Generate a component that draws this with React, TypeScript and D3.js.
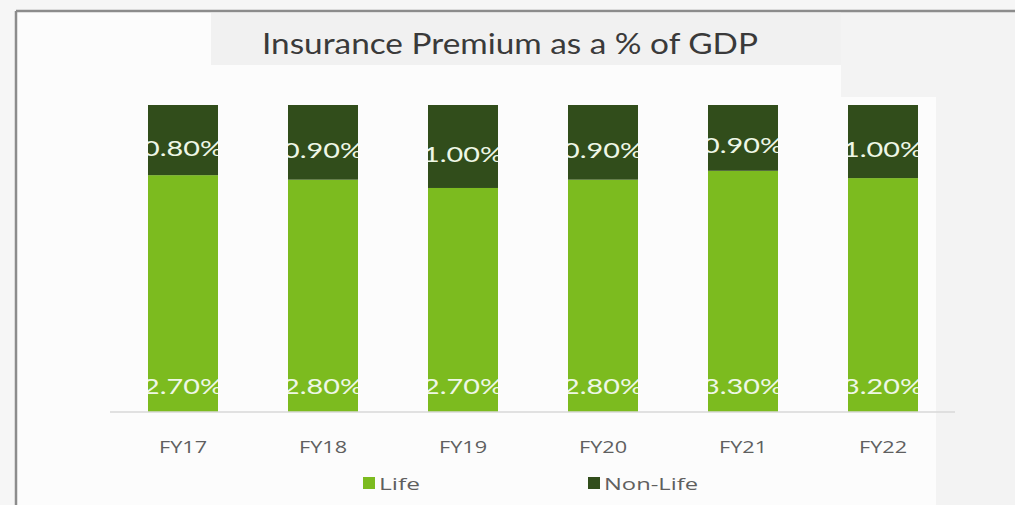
import React from "react";
import * as d3 from "d3";

const categories = ["FY17", "FY18", "FY19", "FY20", "FY21", "FY22"];
const lifeValues = [2.7, 2.8, 2.7, 2.8, 3.3, 3.2];
const nonLifeValues = [0.8, 0.9, 1.0, 0.9, 0.9, 1.0];
const seriesNames = ["Life", "Non-Life"];
const seriesColors = ["#7cbb1f", "#314d1b"];
const title = "Insurance Premium as a % of GDP";

const W = 1015;
const H = 505;

export default function App() {
  const rows = categories.map((c, i) => ({
    cat: c,
    Life: lifeValues[i],
    "Non-Life": nonLifeValues[i],
  }));
  const stack = d3
    .stack<any>()
    .keys(seriesNames)
    .offset(d3.stackOffsetExpand);
  const stacked = stack(rows);

  const x = d3
    .scaleBand<string>()
    .domain(categories)
    .range([113, 953])
    .paddingInner(0.5)
    .paddingOuter(0.25);
  const y = d3.scaleLinear().domain([0, 1]).range([412, 105]);
  const fmt = (v: number) => v.toFixed(2) + "%";
  const font = "Lato, 'Open Sans', sans-serif";
  const font2 = "'Open Sans', 'DejaVu Sans', sans-serif";

  return (
    <svg
      width={W}
      height={H}
      style={{ position: "absolute", left: 0, top: 0, display: "block" }}
    >
      <rect x={0} y={0} width={W} height={H} fill="#f6f6f6" />
      <rect x={16} y={11} width={W - 16} height={H - 11} fill="#fcfcfc" />
      <rect x={841} y={12} width={W - 841} height={85} fill="#f3f3f3" />
      <rect x={936} y={12} width={W - 936} height={H - 12} fill="#f3f3f3" />
      <rect x={211} y={13} width={630} height={52} fill="#f1f1f1" />
      <line x1={16} y1={11} x2={W} y2={11} stroke="#8c8c8c" strokeWidth={2.5} />
      <line x1={16} y1={11} x2={16} y2={H} stroke="#8c8c8c" strokeWidth={2.5} />

      <text
        x={510}
        y={43}
        textAnchor="middle"
        dominantBaseline="central"
        fontFamily={font}
        fontSize={28}
        fill="#3a3a3a"
        textLength={496}
        lengthAdjust="spacingAndGlyphs"
      >
        {title}
      </text>

      <defs>
        {categories.map((c) => (
          <clipPath id={"clip-" + c} key={c}>
            <rect x={x(c)} y={y(1)} width={x.bandwidth()} height={y(0) - y(1)} />
          </clipPath>
        ))}
      </defs>

      {stacked.map((s, si) => (
        <g key={s.key}>
          {s.map((d, i) => (
            <rect
              key={categories[i]}
              x={x(categories[i])}
              y={y(d[1])}
              width={x.bandwidth()}
              height={y(d[0]) - y(d[1])}
              fill={seriesColors[si]}
            />
          ))}
        </g>
      ))}

      <line x1={110} y1={412} x2={955} y2={412} stroke="#d9d9d9" strokeWidth={1.5} />

      {stacked.map((s, si) => (
        <g key={"lbl-" + s.key}>
          {s.map((d, i) => {
            const c = categories[i];
            const cx = (x(c) as number) + x.bandwidth() / 2;
            const val = si === 0 ? lifeValues[i] : nonLifeValues[i];
            const cy = si === 0 ? y(0) - 27 : (y(d[0]) + y(d[1])) / 2 + 7;
            return (
              <text
                key={c}
                x={cx}
                y={cy}
                textAnchor="middle"
                dominantBaseline="central"
                fontFamily={font}
                fontSize={22}
                fill="#eef7e6"
                textLength={80}
                lengthAdjust="spacingAndGlyphs"
                clipPath={`url(#clip-${c})`}
              >
                {fmt(val)}
              </text>
            );
          })}
        </g>
      ))}

      {categories.map((c) => (
        <text
          key={"cat-" + c}
          x={(x(c) as number) + x.bandwidth() / 2}
          y={447}
          textAnchor="middle"
          dominantBaseline="central"
          fontFamily={font2}
          fontSize={16}
          fill="#5f5f5f"
          textLength={48}
          lengthAdjust="spacingAndGlyphs"
        >
          {c}
        </text>
      ))}

      {seriesNames.map((n, i) => {
        const lx = [363, 588][i];
        const tl = [41, 94][i];
        return (
          <g key={"leg-" + n}>
            <rect x={lx} y={477} width={12} height={12} fill={seriesColors[i]} />
            <text
              x={lx + 16}
              y={483}
              dominantBaseline="central"
              fontFamily={font2}
              fontSize={17}
              fill="#5f5f5f"
              textLength={tl}
              lengthAdjust="spacingAndGlyphs"
            >
              {n}
            </text>
          </g>
        );
      })}
    </svg>
  );
}
